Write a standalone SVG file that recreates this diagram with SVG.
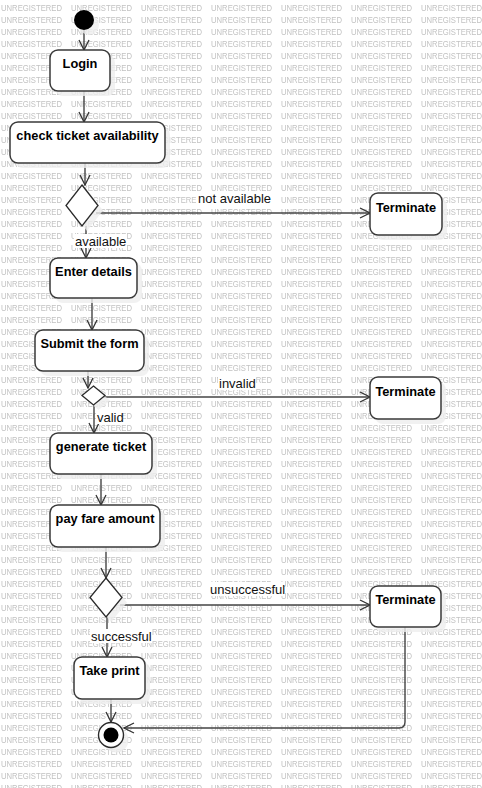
<svg xmlns="http://www.w3.org/2000/svg" width="482" height="788" viewBox="0 0 482 788">
<style>
.wm{font-family:"Liberation Sans",Arial,sans-serif;font-size:9px;fill:#c2c2c2}
.box{fill:#ffffff;stroke:#3a3a3a;stroke-width:1.5}
.sh{fill:#eeeeee;opacity:0.8}
.dia{fill:#ffffff;stroke:#2a2a2a;stroke-width:1.3}
.t{font-family:"Liberation Sans",Arial,sans-serif;font-size:12.8px;font-weight:bold;fill:#000;text-anchor:middle}
.lbl{font-family:"Liberation Sans",Arial,sans-serif;font-size:13px;fill:#111}
.lblbg{fill:#ffffff}
.c{fill:none;stroke:#444444;stroke-width:1.4;marker-end:url(#arr)}
</style>
<defs>
<pattern id="wmp" width="70" height="12" patternUnits="userSpaceOnUse" x="1" y="0">
<text class="wm" x="0" y="10.9" textLength="61" lengthAdjust="spacingAndGlyphs">UNREGISTERED</text>
</pattern>
<marker id="arr" viewBox="0 0 12 12" refX="11" refY="6" markerWidth="12" markerHeight="12" markerUnits="userSpaceOnUse" orient="auto">
<path d="M1,1 L11,6 L1,11" fill="none" stroke="#333333" stroke-width="1.3"/>
</marker>
</defs>
<rect width="482" height="788" fill="#ffffff"/>
<rect width="482" height="788" fill="url(#wmp)"/>

<g id="connectors">
<line class="c" x1="84" y1="30" x2="84" y2="50"/>
<line class="c" x1="84" y1="91" x2="84" y2="122"/>
<line class="c" x1="85" y1="163" x2="85" y2="185"/>
<line class="c" x1="96" y1="213" x2="370" y2="213"/>
<line class="c" x1="86" y1="226" x2="86" y2="258"/>
<line class="c" x1="92" y1="298" x2="92" y2="330"/>
<line class="c" x1="88" y1="371" x2="88" y2="388"/>
<line class="c" x1="103" y1="397" x2="370" y2="397"/>
<line class="c" x1="94" y1="404" x2="94" y2="433"/>
<line class="c" x1="101" y1="474" x2="101" y2="505"/>
<line class="c" x1="106" y1="547" x2="106" y2="578"/>
<line class="c" x1="120" y1="605" x2="370" y2="605"/>
<line class="c" x1="107" y1="616" x2="107" y2="657"/>
<line class="c" x1="111" y1="699" x2="111" y2="722"/>
<path class="c" d="M405,627 L405,722 Q405,728 399,728 L124,728"/>
<rect class="lblbg" x="197" y="191" width="75" height="14"/>
<text class="lbl" x="198" y="202.5">not available</text>
<rect class="lblbg" x="74" y="234" width="53" height="14"/>
<text class="lbl" x="75" y="245.5">available</text>
<rect class="lblbg" x="218" y="376" width="38" height="14"/>
<text class="lbl" x="219" y="387.5">invalid</text>
<rect class="lblbg" x="96" y="410" width="27" height="14"/>
<text class="lbl" x="97" y="421.5">valid</text>
<rect class="lblbg" x="209" y="582" width="75" height="14"/>
<text class="lbl" x="210" y="593.5">unsuccessful</text>
<rect class="lblbg" x="90" y="629" width="62" height="14"/>
<text class="lbl" x="91" y="640.5">successful</text>
</g>

<g id="start">
<circle class="sh" cx="89" cy="25" r="10"/>
<circle cx="84" cy="20" r="10" fill="#000000"/>
</g>
<g id="login">
<rect class="sh" x="55" y="55" width="60" height="41" rx="8"/>
<rect class="box" x="50" y="50" width="60" height="41" rx="8"/>
<text class="t" x="80" y="67.5">Login</text>
</g>
<g id="check">
<rect class="sh" x="15" y="127" width="155" height="41" rx="8"/>
<rect class="box" x="10" y="122" width="155" height="41" rx="8"/>
<text class="t" x="87.5" y="139.5">check ticket availability</text>
</g>
<g id="decision1">
<polygon class="sh" points="87,190 103,210.5 87,231 71,210.5"/>
<polygon class="dia" points="82,185 98,205.5 82,226 66,205.5"/>
</g>
<g id="terminate1">
<rect class="sh" x="375" y="198" width="72" height="42" rx="8"/>
<rect class="box" x="370" y="193" width="72" height="42" rx="8"/>
<text class="t" x="406" y="211.5">Terminate</text>
</g>
<g id="enter">
<rect class="sh" x="55" y="263" width="87" height="40" rx="8"/>
<rect class="box" x="50" y="258" width="87" height="40" rx="8"/>
<text class="t" x="93.5" y="275.5">Enter details</text>
</g>
<g id="submit">
<rect class="sh" x="40" y="335" width="109" height="41" rx="8"/>
<rect class="box" x="35" y="330" width="109" height="41" rx="8"/>
<text class="t" x="89.5" y="347.5">Submit the form</text>
</g>
<g id="decision2">
<polygon class="sh" points="98.5,391 110,400.5 98.5,410 87,400.5"/>
<polygon class="dia" points="93.5,386 105,395.5 93.5,405 82,395.5"/>
</g>
<g id="terminate2">
<rect class="sh" x="375" y="382" width="71" height="42" rx="8"/>
<rect class="box" x="370" y="377" width="71" height="42" rx="8"/>
<text class="t" x="405.5" y="395.5">Terminate</text>
</g>
<g id="generate">
<rect class="sh" x="55" y="438" width="102" height="41" rx="8"/>
<rect class="box" x="50" y="433" width="102" height="41" rx="8"/>
<text class="t" x="101" y="450.5">generate ticket</text>
</g>
<g id="pay">
<rect class="sh" x="55" y="510" width="110" height="42" rx="8"/>
<rect class="box" x="50" y="505" width="110" height="42" rx="8"/>
<text class="t" x="105" y="522.5">pay fare amount</text>
</g>
<g id="decision3">
<polygon class="sh" points="111,583 127,602.5 111,622 95,602.5"/>
<polygon class="dia" points="106,578 122,597.5 106,617 90,597.5"/>
</g>
<g id="terminate3">
<rect class="sh" x="375" y="591" width="71" height="41" rx="8"/>
<rect class="box" x="370" y="586" width="71" height="41" rx="8"/>
<text class="t" x="405.5" y="603.5">Terminate</text>
</g>
<g id="print">
<rect class="sh" x="79" y="662" width="71" height="42" rx="8"/>
<rect class="box" x="74" y="657" width="71" height="42" rx="8"/>
<text class="t" x="109.5" y="674.5">Take print</text>
</g>
<g id="end">
<circle class="sh" cx="116" cy="740" r="12.5"/>
<circle cx="111" cy="735" r="12.5" fill="#ffffff" stroke="#2a2a2a" stroke-width="1.4"/>
<circle cx="111" cy="735" r="7.5" fill="#000000"/>
</g>
</svg>
